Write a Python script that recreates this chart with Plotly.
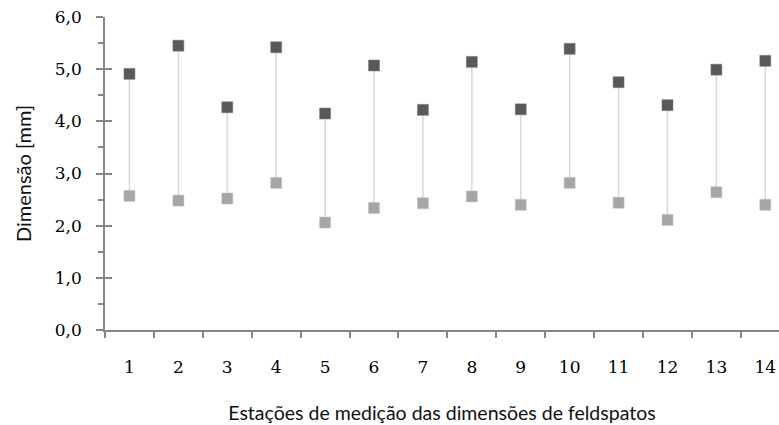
import plotly.graph_objects as go

stations = [str(i) for i in range(1, 15)]
dim_max = [4.91, 5.45, 4.27, 5.42, 4.15, 5.07, 4.22, 5.14, 4.23, 5.39, 4.75, 4.31, 4.99, 5.16]
dim_min = [2.57, 2.48, 2.52, 2.82, 2.06, 2.34, 2.43, 2.56, 2.40, 2.82, 2.44, 2.11, 2.64, 2.40]
y_ticks = [0, 1, 2, 3, 4, 5, 6]
y_labels = ["0,0", "1,0", "2,0", "3,0", "4,0", "5,0", "6,0"]

# connector lines
lx, ly = [], []
for s, lo, hi in zip(stations, dim_min, dim_max):
    lx += [s, s, None]
    ly += [lo, hi, None]

fig = go.Figure()
fig.add_trace(go.Scatter(x=lx, y=ly, mode="lines",
                         line=dict(color="#d9d9d9", width=1.5),
                         hoverinfo="skip", showlegend=False))
fig.add_trace(go.Scatter(x=stations, y=dim_min, mode="markers",
                         marker=dict(symbol="square", size=11, color="#a6a6a6",
                                     line=dict(color="#c0c0c0", width=0.5)),
                         showlegend=False, name="mín"))
fig.add_trace(go.Scatter(x=stations, y=dim_max, mode="markers",
                         marker=dict(symbol="square", size=11, color="#595959",
                                     line=dict(color="#7a7a7a", width=0.5)),
                         showlegend=False, name="máx"))
# invisible trace for overlay y axis (cross ticks)
fig.add_trace(go.Scatter(x=[stations[0]], y=[0], yaxis="y2", mode="markers",
                         marker=dict(opacity=0), hoverinfo="skip", showlegend=False))

tick_font = dict(family="DejaVu Serif", size=17, color="#000000")
title_font = dict(family="Lato", size=19.5, color="#111111")
ytitle_font = dict(family="Lato", size=20, color="#111111")

fig.update_layout(
    width=779, height=425,
    margin=dict(l=105, r=0, t=17, b=95),
    paper_bgcolor="white", plot_bgcolor="white",
    xaxis=dict(
        type="category", categoryorder="array", categoryarray=stations,
        range=[-0.5, 13.28], tickson="boundaries", automargin=False,
        showline=True, linecolor="#868686", linewidth=1.5,
        ticks="outside", ticklen=6, tickcolor="#868686", tickwidth=1.5,
        showgrid=False, zeroline=False, ticklabeloverflow="allow",
        tickfont=tick_font, ticklabelstandoff=21,
        title=dict(text="Estações de medição das dimensões de feldspatos",
                   font=title_font, standoff=30),
    ),
    yaxis=dict(
        range=[0, 6], tickvals=y_ticks, ticktext=y_labels, automargin=False,
        showline=True, linecolor="#868686", linewidth=1.5,
        ticks="outside", ticklen=7, tickcolor="#868686", tickwidth=1.5,
        minor=dict(dtick=0.5, ticks="outside", ticklen=5, tickcolor="#868686", tickwidth=1.5),
        showgrid=False, zeroline=False, ticklabeloverflow="allow",
        tickfont=tick_font, ticklabelstandoff=11,
        title=dict(text="Dimensão [mm]", font=ytitle_font, standoff=18),
    ),
    yaxis2=dict(
        overlaying="y", range=[0, 6], tickvals=y_ticks, showticklabels=False,
        ticks="inside", ticklen=7, tickcolor="#868686", tickwidth=1.5,
        showline=False, showgrid=False, zeroline=False, automargin=False,
    ),
)

# remove the browser's default 8px page margin so the figure fills the window exactly
fig.write_html("out.html",
               config={"displayModeBar": False},
               post_script="document.body.style.margin='0';document.body.style.overflow='hidden';")
